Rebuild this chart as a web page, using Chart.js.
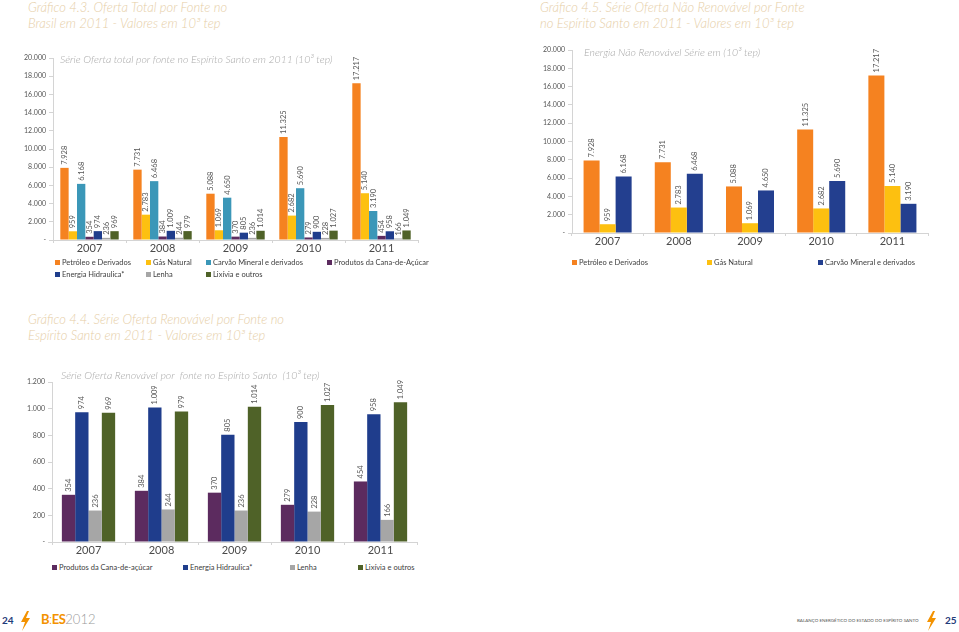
<!DOCTYPE html>
<html>
<head>
<meta charset="utf-8">
<script src="https://cdn.jsdelivr.net/npm/chart.js@4.4.1/dist/chart.umd.min.js"></script>
<style>
  html, body { margin: 0; padding: 0; background: #fff; }
  body { width: 959px; height: 632px; position: relative; overflow: hidden; font-family: Lato, "Open Sans", sans-serif; }
  .box { position: absolute; }
  .title { position: absolute; font-style: italic; font-weight: 300; font-size: 13px; line-height: 15.5px; color: #e6cea6; white-space: nowrap; }
  .sub { position: absolute; font-style: italic; font-weight: 300; font-size: 10.5px; color: #a8a8a8; white-space: nowrap; }
  .leg { position: absolute; font-size: 7.5px; color: #404040; white-space: nowrap; line-height: 9px; }
  .leg i { display: inline-block; width: 5px; height: 5px; margin-right: 2px; vertical-align: 0px; }
  .foot { position: absolute; white-space: nowrap; }
</style>
</head>
<body>

<div class="title" style="left:28px; top:0px;">Gráfico 4.3. Oferta Total por Fonte no<br>Brasil em 2011 - Valores em 10³ tep</div>
<div class="title" style="left:540px; top:0px;">Gráfico 4.5. Série Oferta Não Renovável por Fonte<br>no Espírito Santo em 2011 - Valores em 10³ tep</div>
<div class="title" style="left:28px; top:312px;">Gráfico 4.4. Série Oferta Renovável por Fonte no<br>Espírito Santo em 2011 - Valores em 10³ tep</div>

<div class="box" style="left:0; top:40px; width:440px; height:225px;"><canvas id="c1"></canvas></div>
<div class="box" style="left:480px; top:30px; width:479px; height:225px;"><canvas id="c2"></canvas></div>
<div class="box" style="left:0; top:360px; width:440px; height:200px;"><canvas id="c3"></canvas></div>

<div class="sub" style="left:60px; top:53px;">Série Oferta total por fonte no Espírito Santo em 2011 (10³ tep)</div>
<div class="sub" style="left:584px; top:46px;">Energia Não Renovável Série em (10³ tep)</div>
<div class="sub" style="left:61px; top:369px;">Série Oferta Renovável por&nbsp; fonte no Espírito Santo&nbsp; (10³ tep)</div>

<div id="leg1"></div>
<div id="leg2"></div>
<div id="leg3"></div>

<div class="foot" style="left:2px; top:614px; font-size:10px; font-weight:bold; color:#1f3c7a;">24</div>
<svg class="foot" style="left:19px; top:611px;" width="12" height="20" viewBox="0 0 12 20"><polygon points="8,0 2,11 6,11 3,20 11,7 7,7 10,0" fill="#f39200"/></svg>
<div class="foot" style="left:41px; top:611px; font-size:13px; color:#f39200; font-weight:bold; letter-spacing:-0.5px;">B<span style="font-weight:300;">:</span>ES<span style="font-weight:300; color:#9a9a9a; letter-spacing:0;">2012</span></div>
<div class="foot" style="left:797px; top:618px; font-size:4.5px; color:#555;">BALANÇO ENERGÉTICO DO ESTADO DO ESPÍRITO SANTO</div>
<svg class="foot" style="left:925px; top:611px;" width="12" height="20" viewBox="0 0 12 20"><polygon points="8,0 2,11 6,11 3,20 11,7 7,7 10,0" fill="#f39200"/></svg>
<div class="foot" style="left:945px; top:614px; font-size:10px; font-weight:bold; color:#1f3c7a;">25</div>

<script>
// ------------------------------------------------------------
// Dados (10³ tep)
// ------------------------------------------------------------
const years = ["2007", "2008", "2009", "2010", "2011"];

const petroleo   = [7928, 7731, 5088, 11325, 17217];
const gasNatural = [959, 2783, 1069, 2682, 5140];
const carvao     = [6168, 6468, 4650, 5690, 3190];
const cana       = [354, 384, 370, 279, 454];
const hidraulica = [974, 1009, 805, 900, 958];
const lenha      = [236, 244, 236, 228, 166];
const lixivia    = [969, 979, 1014, 1027, 1049];

const COLORS = {
  petroleo: "#f58220",
  gas: "#fdc010",
  carvaoTeal: "#3b97b8",
  carvaoNavy: "#233f8f",
  cana: "#5c2b5f",
  hidraulica: "#1f3d8c",
  lenha: "#a6a6a6",
  lixivia: "#4f6228"
};

// formato brasileiro: 17217 -> 17.217, 0 -> "-"
function fmt(v) {
  if (v === 0) return "-";
  return String(v).replace(/\B(?=(\d{3})+(?!\d))/g, ".");
}

// ------------------------------------------------------------
// Rótulos verticais acima das barras
// ------------------------------------------------------------
const barLabels = {
  id: "barLabels",
  afterDatasetsDraw(chart) {
    const ctx = chart.ctx;
    ctx.save();
    ctx.font = "7.5px Lato";
    ctx.fillStyle = "#555";
    ctx.textAlign = "left";
    ctx.textBaseline = "middle";
    chart.data.datasets.forEach((ds, i) => {
      chart.getDatasetMeta(i).data.forEach((bar, j) => {
        ctx.save();
        ctx.translate(bar.x, bar.y - 3);
        ctx.rotate(-Math.PI / 2);
        ctx.fillText(fmt(ds.data[j]), 0, 0);
        ctx.restore();
      });
    });
    ctx.restore();
  }
};

function makeChart(id, datasets, cfg) {
  return new Chart(document.getElementById(id), {
    type: "bar",
    data: {
      labels: years,
      datasets: datasets.map(d => ({
        label: d.label,
        data: d.data,
        backgroundColor: d.color,
        borderWidth: 0,
        categoryPercentage: cfg.catPct,
        barPercentage: 1.0
      }))
    },
    options: {
      responsive: true,
      maintainAspectRatio: false,
      animation: false,
      layout: { padding: { top: cfg.padTop, right: cfg.padRight, left: 0, bottom: 0 } },
      plugins: { legend: { display: false }, tooltip: { enabled: false } },
      scales: {
        x: {
          grid: { offset: true, drawOnChartArea: false, tickLength: 3, color: "#d4d4d4" },
          border: { color: "#d4d4d4" },
          ticks: { color: "#4a4a4a", font: { family: "Lato", size: 11 }, padding: -1 },
          afterFit: s => { s.height = cfg.xHeight; }
        },
        y: {
          min: 0,
          max: cfg.max,
          grid: { drawOnChartArea: false, tickLength: 4, color: "#d4d4d4" },
          border: { color: "#d4d4d4" },
          ticks: {
            stepSize: cfg.step,
            color: "#555",
            font: { family: "Lato", size: 7 },
            padding: 3,
            callback: v => fmt(v)
          },
          afterFit: s => { s.width = cfg.yWidth; }
        }
      }
    },
    plugins: [barLabels]
  });
}

function makeLegend(id, items, top, xs) {
  const el = document.getElementById(id);
  items.forEach((it, k) => {
    const d = document.createElement("div");
    d.className = "leg";
    d.style.left = xs[k][0] + "px";
    d.style.top = (top + xs[k][1]) + "px";
    d.innerHTML = '<i style="background:' + it.color + '"></i>' + it.label;
    el.appendChild(d);
  });
}

// Gráfico 4.3 - oferta total
const series1 = [
  { label: "Petróleo e Derivados", data: petroleo, color: COLORS.petroleo },
  { label: "Gás Natural", data: gasNatural, color: COLORS.gas },
  { label: "Carvão Mineral e derivados", data: carvao, color: COLORS.carvaoTeal },
  { label: "Produtos da Cana-de-Açúcar", data: cana, color: COLORS.cana },
  { label: "Energia  Hidraulica*", data: hidraulica, color: COLORS.hidraulica },
  { label: "Lenha", data: lenha, color: COLORS.lenha },
  { label: "Lixívia e outros", data: lixivia, color: COLORS.lixivia }
];
makeChart("c1", series1, { max: 20000, step: 2000, catPct: 0.8, padTop: 18, padRight: 22, yWidth: 53, xHeight: 25 });
makeLegend("leg1", series1, 258, [[55, 0], [146, 0], [206, 0], [327, 0], [55, 12], [146, 12], [206, 12]]);

// Gráfico 4.5 - não renovável
const series2 = [
  { label: "Petróleo e Derivados", data: petroleo, color: COLORS.petroleo },
  { label: "Gás Natural", data: gasNatural, color: COLORS.gas },
  { label: "Carvão Mineral e derivados", data: carvao, color: COLORS.carvaoNavy }
];
makeChart("c2", series2, { max: 20000, step: 2000, catPct: 0.675, padTop: 20, padRight: 31, yWidth: 92, xHeight: 22 });
makeLegend("leg2", series2, 258, [[572, 0], [707, 0], [818, 0]]);

// Gráfico 4.4 - renovável
const series3 = [
  { label: "Produtos da Cana-de-açúcar", data: cana, color: COLORS.cana },
  { label: "Energia  Hidraulica*", data: hidraulica, color: COLORS.hidraulica },
  { label: "Lenha", data: lenha, color: COLORS.lenha },
  { label: "Lixívia e outros", data: lixivia, color: COLORS.lixivia }
];
makeChart("c3", series3, { max: 1200, step: 200, catPct: 0.73, padTop: 22, padRight: 23, yWidth: 52, xHeight: 18 });
makeLegend("leg3", series3, 563, [[52, 0], [183, 0], [290, 0], [358, 0]]);
</script>
</body>
</html>
